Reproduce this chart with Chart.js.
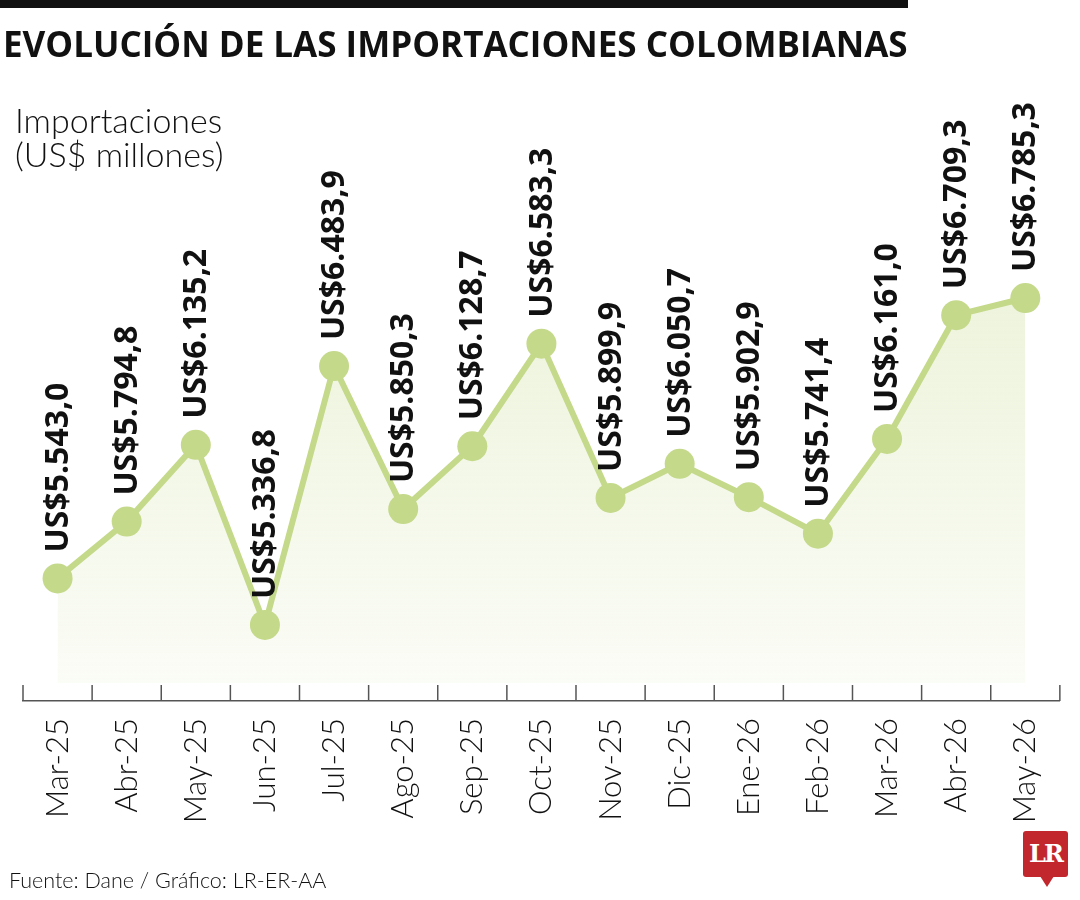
<!DOCTYPE html>
<html>
<head>
<meta charset="utf-8">
<script src="https://cdn.jsdelivr.net/npm/chart.js@4/dist/chart.umd.min.js"></script>
<style>
  html, body { margin: 0; padding: 0; background: #fff; }
  #wrap { position: relative; width: 1080px; height: 900px; overflow: hidden; }
  #chart { position: absolute; left: 0; top: 0; }
  .txt { position: absolute; white-space: nowrap; color: #111; }
  #bar { position: absolute; left: 0; top: 0; width: 908px; height: 8px; background: #111; }
  #title { left: 3px; top: 19px; font: 700 35px/50px "Open Sans", sans-serif; transform-origin: 0 0; }
  #ylab { left: 15px; top: 103px; font: 300 34px/34px "Lato", "Open Sans", sans-serif; }
  #foot { left: 9px; top: 867px; font: 300 21.5px/26px "Lato", "Open Sans", sans-serif; }
  #logo { position: absolute; left: 1023px; top: 831px; width: 45px; height: 46px; background: #c1272d; border-radius: 3px;
          color: #fff; font: 700 24px/46px "DejaVu Serif", "Liberation Serif", serif; text-align: center; letter-spacing: -2px; }
  #logo:after { content: ""; position: absolute; left: 17px; top: 45px; border-left: 7px solid transparent;
                border-right: 7px solid transparent; border-top: 11px solid #c1272d; }
</style>
</head>
<body>
<div id="wrap">
  <canvas id="chart" width="1080" height="900"></canvas>
  <div id="bar"></div>
  <div class="txt" id="title">EVOLUCIÓN DE LAS IMPORTACIONES COLOMBIANAS</div>
  <div class="txt" id="ylab">Importaciones<br>(US$ millones)</div>
  <div class="txt" id="foot">Fuente: Dane / Gráfico: LR-ER-AA</div>
  <div id="logo">LR</div>
</div>
<script>
let months = ['Mar-25', 'Abr-25', 'May-25', 'Jun-25', 'Jul-25', 'Ago-25', 'Sep-25', 'Oct-25',
	'Nov-25', 'Dic-25', 'Ene-26', 'Feb-26', 'Mar-26', 'Abr-26', 'May-26'];
let imports = [5543.0, 5794.8, 6135.2, 5336.8, 6483.9, 5850.3, 6128.7, 6583.3,
	5899.9, 6050.7, 5902.9, 5741.4, 6161.0, 6709.3, 6785.3];
let yMin = 5000;
let yMax = 7800;

// stretch the title to the width of the top bar
let title = document.getElementById('title');
title.style.transform = 'scaleX(' + (905 / title.offsetWidth) + ')';

function formatValue(v) {
	let s = v.toFixed(1).replace('.', ',');
	return 'US$' + s.replace(/\B(?=(\d{3})+(?!\d))/g, '.');
}

const green = '#c4d98a';

const extras = {
	id: 'extras',
	afterDraw(chart) {
		let ctx = chart.ctx;
		let x = chart.scales.x;
		// small ticks between months, pointing up
		ctx.save();
		ctx.strokeStyle = '#555';
		ctx.lineWidth = 1.5;
		for (let i = 0; i <= months.length; i++) {
			let px = x.left + i * x.width / months.length;
			ctx.beginPath();
			ctx.moveTo(px, x.top);
			ctx.lineTo(px, x.top - 16);
			ctx.stroke();
		}
		ctx.restore();
	},
	afterDatasetsDraw(chart) {
		let ctx = chart.ctx;
		let meta = chart.getDatasetMeta(0);
		ctx.save();
		ctx.fillStyle = '#111';
		ctx.font = '700 32px "Open Sans", sans-serif';
		ctx.textAlign = 'left';
		ctx.textBaseline = 'middle';
		meta.data.forEach((pt, i) => {
			ctx.save();
			ctx.translate(pt.x + 1, pt.y - 26);
			ctx.rotate(-Math.PI / 2);
			ctx.fillText(formatValue(imports[i]), 0, 0);
			ctx.restore();
		});
		ctx.restore();
	}
};

new Chart(document.getElementById('chart'), {
	type: 'line',
	data: {
		labels: months,
		datasets: [{
			data: imports,
			borderColor: green,
			borderWidth: 6,
			pointRadius: 15,
			pointHoverRadius: 15,
			pointBackgroundColor: green,
			pointBorderWidth: 0,
			tension: 0,
			fill: { value: 5080 },
			backgroundColor: function (context) {
				let area = context.chart.chartArea;
				if (!area) return 'rgba(196,217,138,0.15)';
				let g = context.chart.ctx.createLinearGradient(0, 290, 0, 690);
				g.addColorStop(0, 'rgba(196,217,138,0.30)');
				g.addColorStop(1, 'rgba(196,217,138,0.07)');
				return g;
			}
		}]
	},
	options: {
		responsive: false,
		animation: false,
		devicePixelRatio: 1,
		layout: { padding: { left: 23, right: 14, top: 69, bottom: 0 } },
		plugins: { legend: { display: false }, tooltip: { enabled: false } },
		scales: {
			x: {
				offset: true,
				grid: { display: false, drawTicks: false },
				border: { display: true, color: '#555', width: 1.5 },
				ticks: {
					autoSkip: false,
					minRotation: 90,
					maxRotation: 90,
					padding: 17,
					color: '#111',
					font: { family: 'Lato', weight: '300', size: 31 }
				},
				afterFit(scale) { scale.height = 199; }
			},
			y: {
				display: false,
				min: yMin,
				max: yMax
			}
		}
	},
	plugins: [extras]
});
</script>
</body>
</html>
